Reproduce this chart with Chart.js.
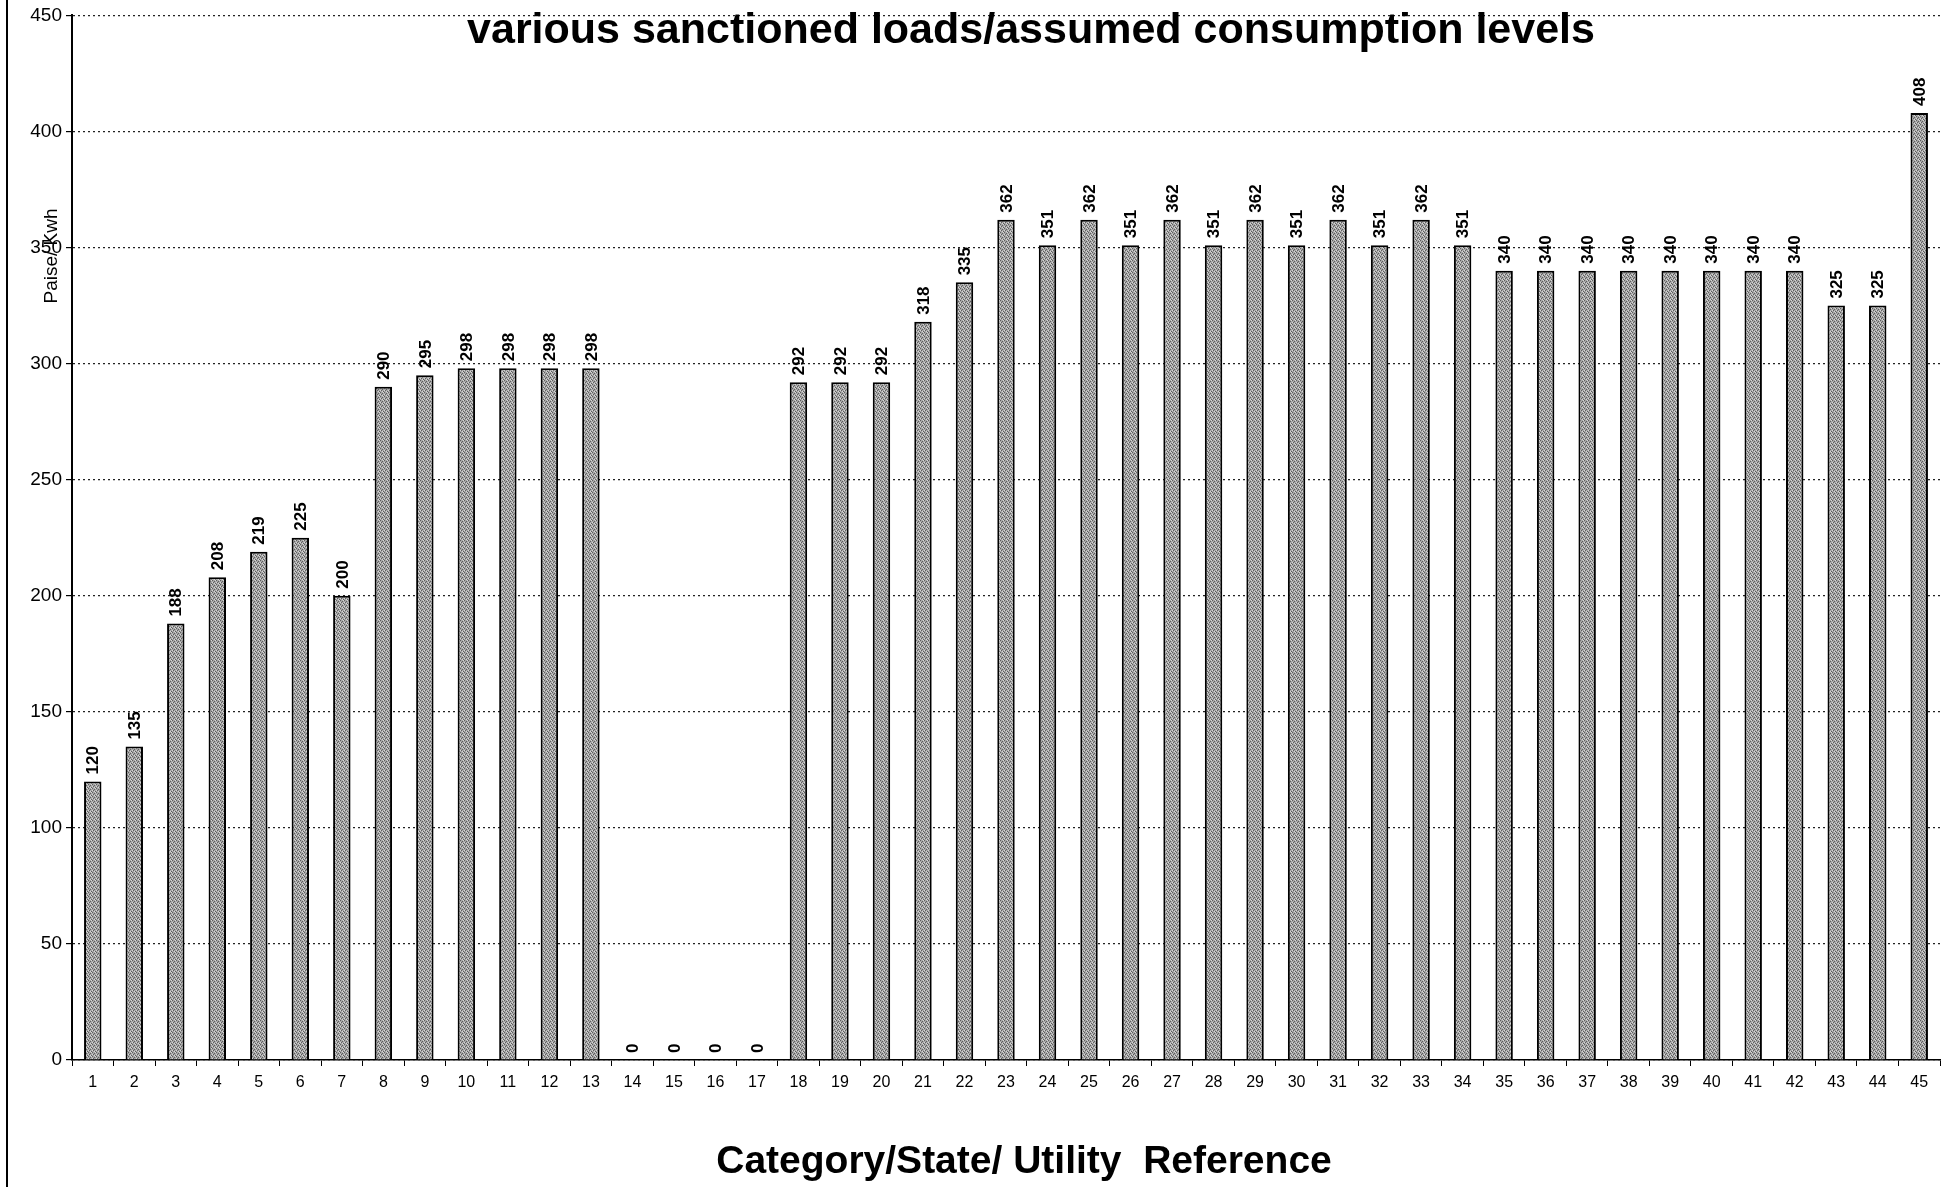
<!DOCTYPE html>
<html>
<head>
<meta charset="utf-8">
<script src="https://cdn.jsdelivr.net/npm/chart.js@4/dist/chart.umd.min.js"></script>
<style>
    html, body { margin: 0; padding: 0; background: #fff; }
    #wrap { width: 1944px; height: 1187px; position: relative; }
</style>
</head>
<body>
<div id="wrap"><canvas id="myChart"></canvas></div>
<script>
// datos del grafico
const categorias = [];
for (let i = 1; i <= 45; i++) categorias.push(String(i));

const valores = [
    120, 135, 188, 208, 219, 225, 200, 290, 295, 298,
    298, 298, 298, 0, 0, 0, 0, 292, 292, 292,
    318, 335, 362, 351, 362, 351, 362, 351, 362, 351,
    362, 351, 362, 351, 340, 340, 340, 340, 340, 340,
    340, 340, 325, 325, 408
];

const titulo = 'various sanctioned loads/assumed consumption levels';
const tituloX = 'Category/State/ Utility  Reference';
const tituloY = 'Paise/ Kwh';

const fuente = '"Liberation Sans", Arial, sans-serif';

// textura gris punteada de las barras
function crearPatron() {
    const c = document.createElement('canvas');
    c.width = 4;
    c.height = 4;
    const g = c.getContext('2d');
    g.fillStyle = '#a6a6a6';
    g.fillRect(0, 0, 4, 4);
    g.fillStyle = '#5e5e5e';
    g.fillRect(0, 0, 1, 1);
    g.fillRect(2, 1, 1, 1);
    g.fillRect(1, 2, 1, 1);
    g.fillRect(3, 3, 1, 1);
    g.fillStyle = '#d6d6d6';
    g.fillRect(2, 3, 1, 1);
    g.fillRect(0, 2, 1, 1);
    g.fillRect(3, 0, 1, 1);
    return g.createPattern(c, 'repeat');
}

// etiquetas giradas sobre las barras, titulos y borde
const extras = {
    id: 'extras',
    afterDatasetsDraw(chart) {
        const ctx = chart.ctx;
        const meta = chart.getDatasetMeta(0);
        ctx.save();
        ctx.fillStyle = '#000';
        ctx.font = 'bold 17px ' + fuente;
        ctx.textAlign = 'left';
        ctx.textBaseline = 'middle';
        meta.data.forEach((bar, i) => {
            ctx.save();
            ctx.translate(bar.x + 1, bar.y - 7);
            ctx.rotate(-Math.PI / 2);
            ctx.fillText(String(valores[i]), 0, 0);
            ctx.restore();
        });
        ctx.restore();
    },
    afterDraw(chart) {
        const ctx = chart.ctx;
        ctx.save();
        ctx.fillStyle = '#000';
        ctx.textAlign = 'center';
        ctx.textBaseline = 'middle';
        ctx.font = 'bold 43px ' + fuente;
        ctx.fillText(titulo, 1031, 31);
        ctx.font = 'bold 39px ' + fuente;
        ctx.fillText(tituloX, 1024, 1162);
        ctx.translate(52, 256);
        ctx.rotate(-Math.PI / 2);
        ctx.font = '19px ' + fuente;
        ctx.fillText(tituloY, 0, 0);
        ctx.restore();

        ctx.save();
        ctx.strokeStyle = '#000';
        ctx.lineWidth = 2;
        ctx.beginPath();
        ctx.moveTo(7, 0);
        ctx.lineTo(7, 1187);
        ctx.stroke();
        ctx.restore();
    }
};

const data = {
    labels: categorias,
    datasets: [{
        data: valores,
        backgroundColor: crearPatron(),
        borderColor: '#000',
        borderWidth: 2,
        borderSkipped: 'bottom',
        categoryPercentage: 1,
        barPercentage: 0.42
    }]
};

const config = {
    type: 'bar',
    data: data,
    options: {
        responsive: true,
        maintainAspectRatio: false,
        animation: false,
        layout: { padding: { top: 15, right: 4, left: 0, bottom: 0 } },
        plugins: {
            legend: { display: false },
            tooltip: { enabled: false }
        },
        scales: {
            x: {
                afterFit: s => { s.height = 127; },
                grid: {
                    offset: true,
                    drawOnChartArea: false,
                    drawTicks: true,
                    tickLength: 6,
                    color: '#000'
                },
                border: { color: '#000', width: 1.5 },
                ticks: {
                    color: '#000',
                    padding: 7,
                    maxRotation: 0,
                    autoSkip: false,
                    font: { size: 16, family: fuente }
                }
            },
            y: {
                min: 0,
                max: 450,
                afterFit: s => { s.width = 72; },
                grid: {
                    color: '#222',
                    lineWidth: 1.2,
                    tickLength: 6,
                    drawTicks: true,
                    tickBorderDash: [],
                    tickColor: '#000'
                },
                // en v4 border.dash se aplica a las lineas de la cuadricula
                border: { color: '#000', width: 2, dash: [2, 3] },
                ticks: {
                    stepSize: 50,
                    color: '#000',
                    padding: 4,
                    font: { size: 19, family: fuente }
                }
            }
        }
    },
    plugins: [extras]
};

const ctx = document.getElementById('myChart').getContext('2d');
const grafico = new Chart(ctx, config);
</script>
</body>
</html>
